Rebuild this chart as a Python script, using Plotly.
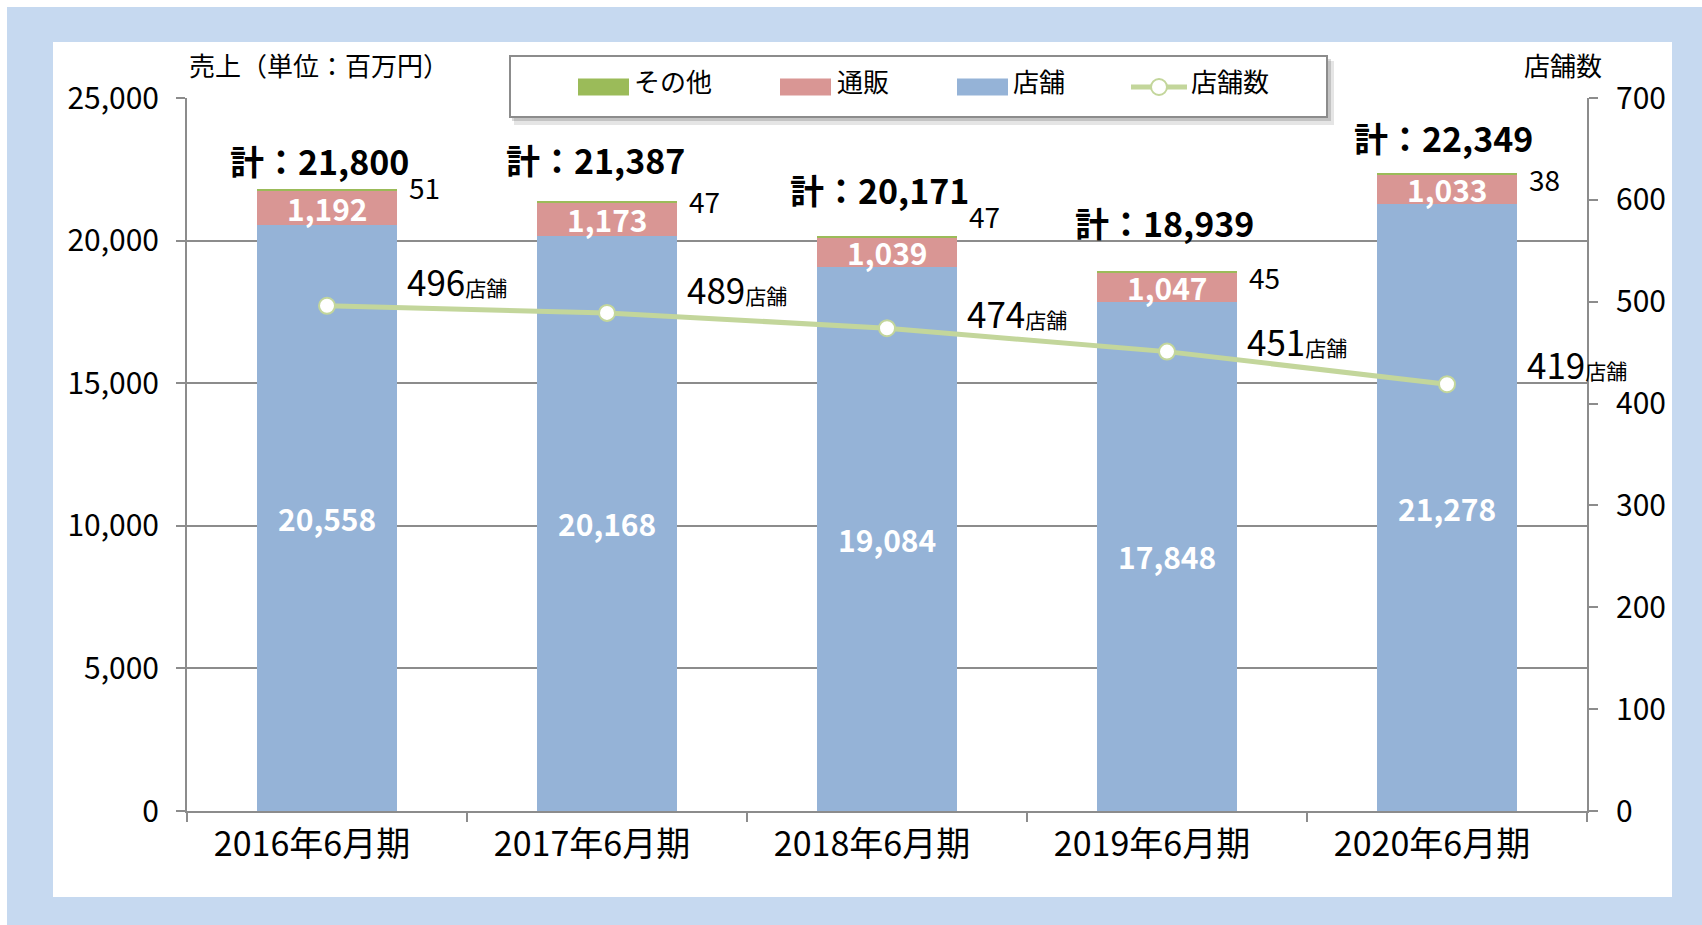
import plotly.graph_objects as go

# ---- data ----
categories = ["2016年6月期", "2017年6月期", "2018年6月期", "2019年6月期", "2020年6月期"]
store_sales = [20558, 20168, 19084, 17848, 21278]      # 店舗
mail_sales = [1192, 1173, 1039, 1047, 1033]            # 通販
other_sales = [51, 47, 47, 45, 38]                     # その他
totals = [21800, 21387, 20171, 18939, 22349]           # 計
store_counts = [496, 489, 474, 451, 419]                # 店舗数

# ---- page geometry (px) ----
WIDTH, HEIGHT = 1702, 925
L, R, T, B = 187, 1587, 98, 811
PW, PH = R - L, B - T


def px(x):
    return (x - L) / PW


def py(y):
    return (B - y) / PH


FONT = "Noto Sans CJK JP"
C_OTHER = "#9BBB59"
C_MAIL = "#D99694"
C_STORE = "#95B3D7"
C_LINE = "#C3D69B"
GRID = "#8C8C8C"

fig = go.Figure()
fig.add_trace(go.Bar(x=categories, y=store_sales, name="店舗", marker=dict(color=C_STORE, line=dict(width=0)),
                     showlegend=False, hoverinfo="y+name"))
fig.add_trace(go.Bar(x=categories, y=mail_sales, name="通販", marker=dict(color=C_MAIL, line=dict(width=0)),
                     showlegend=False, hoverinfo="y+name"))
fig.add_trace(go.Bar(x=categories, y=other_sales, name="その他", marker=dict(color=C_OTHER, line=dict(width=0)),
                     showlegend=False, hoverinfo="y+name"))
fig.add_trace(go.Scatter(x=categories, y=store_counts, name="店舗数", yaxis="y2", mode="lines+markers",
                         line=dict(color=C_LINE, width=5),
                         marker=dict(size=16, color="white", line=dict(color=C_LINE, width=2)),
                         showlegend=False))

ann = []
# label offsets (px)
total_dx = [-8, -12, -8, -3, -4]
total_dy = [29, 42, 46, 48, 36]
other_dy = [2, 0, 20, -6, -5]
count_dy = [25, 24, 16, 11, 21]

for i, c in enumerate(categories):
    s, m, o = store_sales[i], mail_sales[i], other_sales[i]
    ann.append(dict(x=c, y=s / 2, xref="x", yref="y", text=f"{s:,}", showarrow=False,
                    font=dict(family=FONT, size=30, color="white", weight="bold")))
    ann.append(dict(x=c, y=s + m / 2, xref="x", yref="y", text=f"{m:,}", showarrow=False,
                    font=dict(family=FONT, size=30, color="white", weight="bold")))
    ann.append(dict(x=c, y=s + m + o, xref="x", yref="y", text=f"{o}", showarrow=False,
                    xanchor="left", xshift=80, yshift=other_dy[i],
                    font=dict(family=FONT, size=28, color="black")))
    ann.append(dict(x=c, y=totals[i], xref="x", yref="y", text=f"計：{totals[i]:,}", showarrow=False,
                    xshift=total_dx[i], yshift=total_dy[i],
                    font=dict(family=FONT, size=34, color="black", weight="bold")))
    ann.append(dict(x=c, y=store_counts[i], xref="x", yref="y2",
                    text=f"{store_counts[i]}<span style='font-size:21px'>店舗</span>", showarrow=False,
                    xanchor="left", xshift=78, yshift=count_dy[i],
                    font=dict(family=FONT, size=35, color="black")))

# axis titles
ann.append(dict(x=px(187), y=py(65), xref="paper", yref="paper", text="売上（単位：百万円）", showarrow=False,
                xanchor="left", yanchor="middle", font=dict(family=FONT, size=26, color="black")))
ann.append(dict(x=px(1604), y=py(65), xref="paper", yref="paper", text="店舗数", showarrow=False,
                xanchor="right", yanchor="middle", font=dict(family=FONT, size=26, color="black")))

# custom legend
legend_items = [("rect", C_OTHER, "その他", 578, 632), ("rect", C_MAIL, "通販", 780, 835),
                ("rect", C_STORE, "店舗", 957, 1011), ("line", C_LINE, "店舗数", 1131, 1189)]
shapes = [
    dict(type="rect", xref="paper", yref="paper", x0=px(7), x1=px(1702), y0=py(7), y1=py(925),
         fillcolor="#C6D9F0", line=dict(width=0), layer="below"),
    dict(type="rect", xref="paper", yref="paper", x0=px(53), x1=px(1672), y0=py(42), y1=py(897),
         fillcolor="white", line=dict(width=0), layer="below"),
    dict(type="rect", xref="paper", yref="paper", x0=px(514), x1=px(1334), y0=py(61), y1=py(125),
         fillcolor="rgba(0,0,0,0.10)", line=dict(width=0), layer="above"),
    dict(type="rect", xref="paper", yref="paper", x0=px(512), x1=px(1331), y0=py(59), y1=py(121),
         fillcolor="rgba(0,0,0,0.15)", line=dict(width=0), layer="above"),
    dict(type="rect", xref="paper", yref="paper", x0=px(510), x1=px(1327), y0=py(56), y1=py(117),
         fillcolor="white", line=dict(color="#8C8C8C", width=2), layer="above"),
]
LY = 87
for kind, col, label, sx, tx in legend_items:
    if kind == "rect":
        shapes.append(dict(type="rect", xref="paper", yref="paper", x0=px(sx), x1=px(sx + 51),
                           y0=py(LY - 8.5), y1=py(LY + 8.5), fillcolor=col, line=dict(width=0), layer="above"))
    else:
        shapes.append(dict(type="line", xref="paper", yref="paper", x0=px(sx), x1=px(sx + 56),
                           y0=py(LY), y1=py(LY), line=dict(color=col, width=5), layer="above"))
        shapes.append(dict(type="circle", xref="paper", yref="paper", x0=px(sx + 20), x1=px(sx + 36),
                           y0=py(LY - 8), y1=py(LY + 8), fillcolor="white", line=dict(color=col, width=2),
                           layer="above"))
    ann.append(dict(x=px(tx), y=py(LY - 6), xref="paper", yref="paper", text=label, showarrow=False,
                    xanchor="left", yanchor="middle", font=dict(family=FONT, size=26, color="black")))

fig.update_layout(
    width=WIDTH, height=HEIGHT,
    margin=dict(l=L, r=WIDTH - R, t=T, b=HEIGHT - B, pad=0),
    barmode="stack", bargap=0.5,
    paper_bgcolor="white", plot_bgcolor="rgba(0,0,0,0)",
    showlegend=False,
    font=dict(family=FONT, color="black"),
    xaxis=dict(range=[-0.5, 4.5], showline=True, linecolor=GRID, linewidth=2,
               ticks="outside", tickson="boundaries", ticklen=9, tickcolor=GRID, tickwidth=2,
               ticklabelstandoff=2, ticklabelshift=-15,
               tickfont=dict(family=FONT, size=34, color="black"), showgrid=False, zeroline=False),
    yaxis=dict(range=[0, 25000], dtick=5000, tickformat=",d", showline=True, linecolor=GRID, linewidth=2,
               ticks="outside", ticklen=9, tickcolor=GRID, tickwidth=2, ticklabelstandoff=11,
               showgrid=True, gridcolor=GRID, gridwidth=2, zeroline=False,
               tickfont=dict(family=FONT, size=30, color="black")),
    yaxis2=dict(range=[0, 700], dtick=100, overlaying="y", side="right", showline=True, linecolor=GRID,
                linewidth=2, ticks="outside", ticklen=9, tickcolor=GRID, tickwidth=2, ticklabelstandoff=12,
                showgrid=False, zeroline=False, tickfont=dict(family=FONT, size=30, color="black")),
    shapes=shapes,
    annotations=ann,
)

fig.write_html("out.html", config={"displayModeBar": False},
               post_script="document.body.style.margin='0';")
